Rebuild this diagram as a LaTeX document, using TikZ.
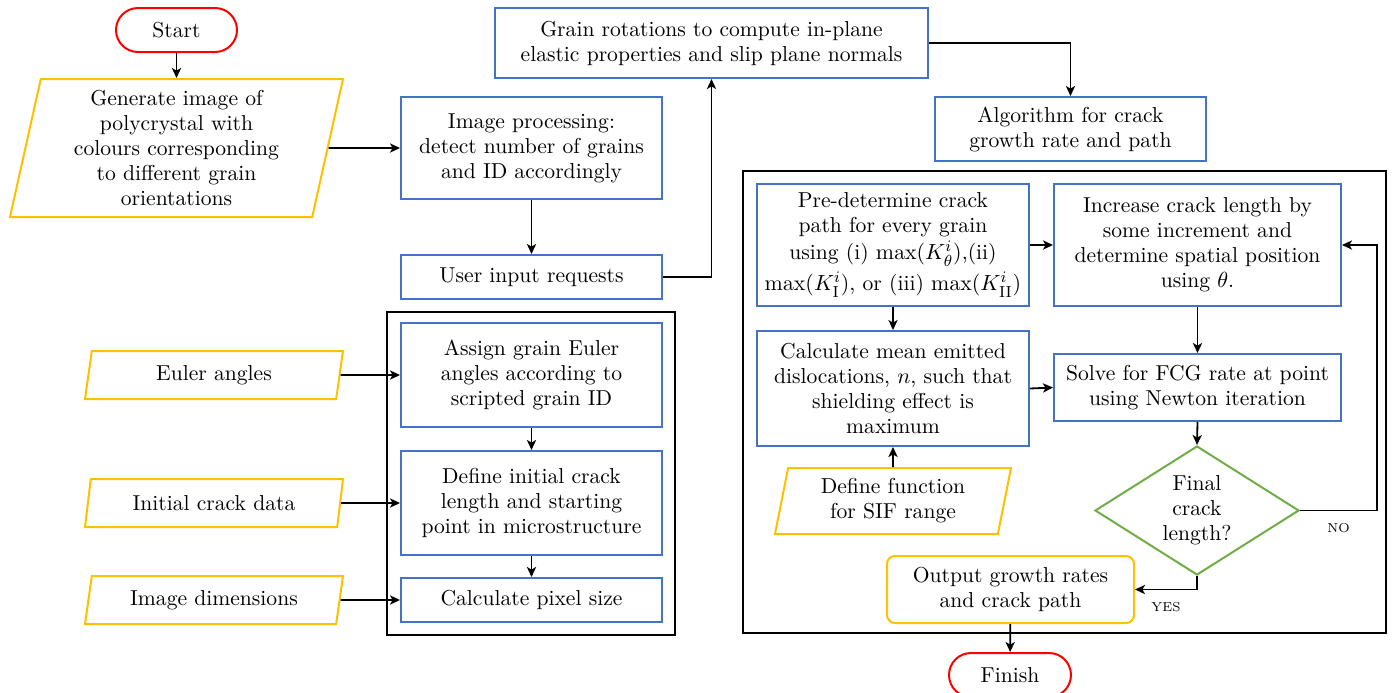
\documentclass[tikz,border=0pt]{standalone}
\usepackage{amsmath}
\usetikzlibrary{shapes.geometric,arrows.meta}
\tikzset{>={Stealth[length=5pt,width=4.6pt,inset=1.3pt]}}
\definecolor{procblue}{RGB}{68,114,196}
\definecolor{inorange}{RGB}{255,192,0}
\definecolor{decgreen}{RGB}{112,173,71}
\definecolor{termred}{RGB}{255,0,0}
\tikzstyle{box}=[draw,line width=1pt,align=center,inner sep=2pt]
\tikzstyle{proc}=[box,draw=procblue,rectangle]
\tikzstyle{term}=[box,draw=termred,rectangle,rounded corners=11pt]
\tikzstyle{inp}=[box,draw=inorange,trapezium,trapezium left angle=76,
                 trapezium right angle=104,trapezium stretches body]
\tikzstyle{outp}=[box,draw=inorange,rectangle,rounded corners=4pt]
\tikzstyle{dec}=[box,draw=decgreen,diamond,aspect=1.58,inner sep=0pt]
\tikzstyle{grp}=[draw,line width=1.4pt]
\tikzstyle{flow}=[->,line width=0.9pt]
\tikzstyle{lbl}=[font=\fontsize{6.5}{7}\selectfont,inner sep=1pt]

\begin{document}
\begin{tikzpicture}[x=0.5pt,y=-0.5pt,font=\fontsize{10.8}{12.5}\selectfont]
  \useasboundingbox (0,0) rectangle (1394,692);

  % GROUP FRAMES
  \draw[grp] (387,312) rectangle (675,635);
  \draw[grp] (743,171) rectangle (1386,633);

  % LEFT COLUMN
  \node[term,minimum width=60.5pt,minimum height=22pt] (start) at (176.5,30) {Start};
  \node[inp,minimum width=166.5pt,minimum height=69pt] (gen) at (176.5,148)
    {Generate image of\\polycrystal with\\colours corresponding\\to different grain\\orientations};
  \node[inp,minimum width=129pt,minimum height=24pt] (euler) at (214,375) {Euler angles};
  \node[inp,minimum width=129pt,minimum height=24pt] (crackdata) at (214,503) {Initial crack data};
  \node[inp,minimum width=129pt,minimum height=24pt] (imgdim) at (214,600) {Image dimensions};

  % MIDDLE COLUMN
  \node[proc,minimum width=130.5pt,minimum height=51pt] (imgproc) at (531.5,148)
    {Image processing:\\detect number of grains\\and ID accordingly};
  \node[proc,minimum width=130.5pt,minimum height=22pt] (userin) at (531.5,277) {User input requests};
  \node[proc,minimum width=130.5pt,minimum height=52pt] (assign) at (531.5,375)
    {Assign grain Euler\\angles according to\\scripted grain ID};
  \node[proc,minimum width=130.5pt,minimum height=52pt] (definit) at (531.5,503)
    {Define initial crack\\length and starting\\point in microstructure};
  \node[proc,minimum width=130.5pt,minimum height=22pt] (pixel) at (531.5,600) {Calculate pixel size};
  \node[proc,minimum width=216.5pt,minimum height=35pt] (grain) at (711.5,43)
    {Grain rotations to compute in-plane\\elastic properties and slip plane normals};

  % RIGHT BLOCK
  \node[proc,minimum width=135.5pt,minimum height=32pt] (algo) at (1070.5,129)
    {Algorithm for crack\\growth rate and path};
  \node[proc,minimum width=136pt,minimum height=61pt] (predet) at (893,245)
    {Pre-determine crack\\path for every grain\\[1pt]using (i) $\max(K^{i}_{\theta})$,(ii)\\[2pt]
     $\max(K^{i}_{\mathrm{I}})$, or (iii) $\max(K^{i}_{\mathrm{II}})$};
  \node[proc,minimum width=143.5pt,minimum height=61pt] (incr) at (1197.5,245)
    {Increase crack length by\\some increment and\\determine spatial position\\using $\theta$.};
  \node[proc,minimum width=136pt,minimum height=57.5pt] (calcmean) at (893,388.5)
    {Calculate mean emitted\\dislocations, $n$, such that\\shielding effect is\\maximum};
  \node[proc,minimum width=143.5pt,minimum height=33.5pt] (solve) at (1197.5,387.5)
    {Solve for FCG rate at point\\using Newton iteration};
  \node[inp,minimum width=118pt,minimum height=33pt] (sif) at (893,501)
    {Define function\\for SIF range};
  \node[dec,minimum width=102pt,minimum height=64.5pt] (final) at (1197,510.5)
    {Final\\crack\\length?};
  \node[outp,minimum width=123.5pt,minimum height=33.5pt] (output) at (1010.5,589.5)
    {Output growth rates\\and crack path};
  \node[term,minimum width=61pt,minimum height=22pt] (finish) at (1010,675) {Finish};

  % CONNECTORS
  \draw[flow] (start) -- (gen);
  \draw[flow] (gen.east) -- (imgproc.west);
  \draw[flow] (imgproc) -- (userin);
  \draw[flow] (userin.east) -| (grain.south);
  \draw[flow] (grain.east) -| (algo.north);
  \draw[flow] (euler.east) -- (assign.west);
  \draw[flow] (crackdata.east) -- (definit.west);
  \draw[flow] (imgdim.east) -- (pixel.west);
  \draw[flow] (assign) -- (definit);
  \draw[flow] (definit) -- (pixel);
  \draw[flow] (predet.east) -- (incr.west);
  \draw[flow] (predet) -- (calcmean);
  \draw[flow] (sif.north) -- (calcmean.south);
  \draw[flow] (calcmean.east) -- (solve.west);
  \draw[flow] (incr) -- (solve);
  \draw[flow] (solve.south) -- (final.north);
  \draw[flow] (final.east) -- node[lbl,below=5pt] {NO} ++(77,0) |- (incr.east);
  \draw[flow] (final.south) |- node[lbl,pos=0.75,below=5pt] {YES} (output.east);
  \draw[flow] (output) -- (finish);
\end{tikzpicture}
\end{document}
